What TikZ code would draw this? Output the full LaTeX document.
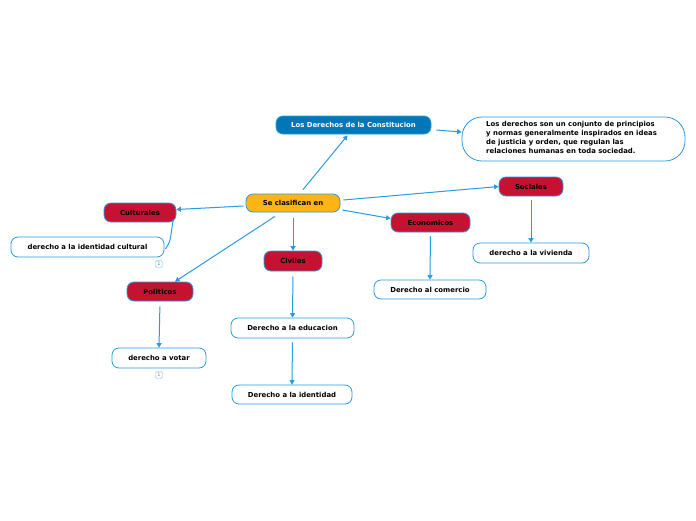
\documentclass[tikz,border=0pt]{standalone}
\usepackage{fontspec}
\setmainfont{DejaVu Sans}
\usetikzlibrary{arrows.meta}
\definecolor{lineblue}{HTML}{2A9BDD}
\definecolor{topblue}{HTML}{0277B7}
\definecolor{redfill}{HTML}{C41230}
\definecolor{orangefill}{HTML}{FDB515}
\tikzset{
  base/.style={rounded corners=7pt, draw=lineblue, line width=0.8pt, font=\bfseries\fontsize{6.9}{8}\selectfont, inner sep=0pt, align=center},
  redbox/.style={base, fill=redfill, text=black},
  whitebox/.style={base, fill=white, text=black},
  conn/.style={draw=lineblue, line width=1pt, -{Triangle[length=4.5pt,width=5pt]}},
  badge/.style={draw=lineblue!60, rounded corners=1.5pt, minimum width=7pt, minimum height=7pt, inner sep=0pt, font=\fontsize{5}{5}\selectfont, text=gray}
}
\begin{document}
\begin{tikzpicture}[x=1pt,y=-1pt]
\useasboundingbox (0,0) rectangle (696,520);
\fill[white] (0,0) rectangle (696,520);

\node[base, fill=topblue, text=white, minimum width=155pt, minimum height=18pt] (top) at (353.5,125) {Los Derechos de la Constitucion};
\node[whitebox, rounded corners=20pt, minimum width=223pt, minimum height=44pt] (desc) at (573.5,139) {};
\node[font=\bfseries\fontsize{6.9}{8.7}\selectfont, align=left, anchor=north west, inner sep=0pt] (desctext) at (486,121.5) {Los derechos son un conjunto de principios\\y normas generalmente inspirados en ideas\\de justicia y orden, que regulan las\\relaciones humanas en toda sociedad.};
\node[base, fill=orangefill, minimum width=94pt, minimum height=18pt] (se) at (293,203) {Se clasifican en};
\node[redbox, minimum width=64pt, minimum height=19pt] (soc) at (531,186.5) {Sociales};
\node[redbox, minimum width=79pt, minimum height=19pt] (eco) at (430.5,222.5) {Economicos};
\node[redbox, minimum width=72pt, minimum height=19pt] (cul) at (140,212.5) {Culturales};
\node[redbox, minimum width=66pt, minimum height=19pt] (pol) at (160,291.5) {Politicos};
\node[redbox, minimum width=58pt, minimum height=20pt] (civ) at (293,261) {Civiles};
\node[whitebox, minimum width=153pt, minimum height=20pt] (idcul) at (87.5,247) {derecho a la identidad cultural};
\node[whitebox, minimum width=123pt, minimum height=20pt] (edu) at (292.5,328) {Derecho a la educacion};
\node[whitebox, minimum width=120pt, minimum height=19pt] (ident) at (292,394.5) {Derecho a la identidad};
\node[whitebox, minimum width=116pt, minimum height=20pt] (viv) at (531,253) {derecho a la vivienda};
\node[whitebox, minimum width=112pt, minimum height=19pt] (com) at (430,289.5) {Derecho al comercio};
\node[whitebox, minimum width=94pt, minimum height=20pt] (vot) at (159,358) {derecho a votar};
\node[badge] (b1) at (159,264) {1};
\node[badge] (b2) at (159,375) {1};

\draw[conn] ([xshift=10pt,yshift=4pt]se.north) -- ([xshift=-6pt,yshift=-1pt]top.south);
\draw[conn] ([xshift=5pt,yshift=-5pt]top.east) -- ([yshift=7pt]desc.west);
\draw[conn] ([xshift=3pt,yshift=3pt]se.east) -- (soc.west);
\draw[conn] ([xshift=2pt,yshift=-7pt]se.east) -- ([yshift=4pt]eco.west);
\draw[conn] ([xshift=-2pt,yshift=-3pt]se.west) -- ([yshift=3pt]cul.east);
\draw[conn] ([xshift=-18pt,yshift=-4pt]se.south) -- ([xshift=15pt]pol.north);
\draw[conn, shorten <=6pt] (se.south) -- (civ.north);
\draw[conn, shorten <=5pt] (civ.south) -- (edu.north);
\draw[conn, shorten <=4pt] (edu.south) -- (ident.north);
\draw[conn, shorten <=4pt] (soc.south) -- (viv.north);
\draw[conn, shorten <=4pt] (eco.south) -- (com.north);
\draw[conn, shorten <=5pt] (pol.south) -- (vot.north);
\draw[draw=lineblue, line width=1pt] ([xshift=-3pt,yshift=3pt]cul.south east) .. controls (170,236) and (172,240) .. ([xshift=1pt,yshift=-2pt]idcul.east);
\end{tikzpicture}
\end{document}
